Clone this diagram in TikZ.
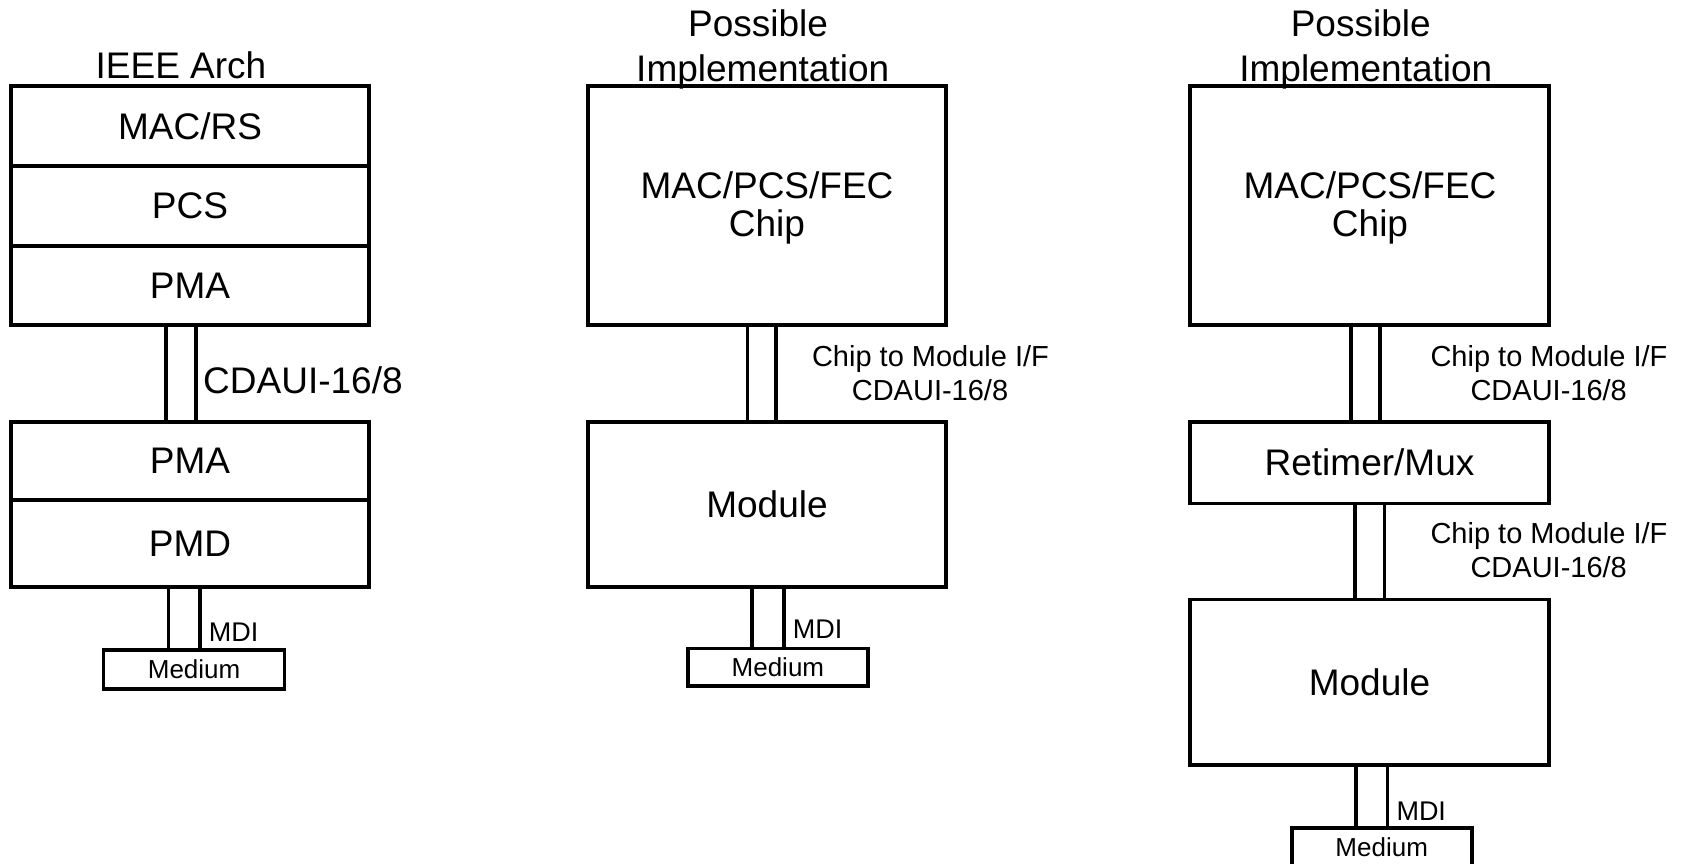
\documentclass[tikz,border=0pt]{standalone}
\usepackage{fontspec}
\setmainfont{Liberation Sans}
\newcommand\bigtxt{\fontsize{37}{38.4}\selectfont}
\newcommand\lbltxt{\fontsize{29}{33}\selectfont}
\newcommand\mditxt{\fontsize{27}{30}\selectfont}
\newcommand\medtxt{\fontsize{26}{29}\selectfont}
\begin{document}
\begin{tikzpicture}[x=1pt,y=-1pt,
  blk/.style={draw, line width=3.6pt, inner sep=0pt, outer sep=0pt, font=\bigtxt},
  bus/.style={draw, line width=3.6pt},
  med/.style={draw, line width=3.6pt, inner sep=0pt, outer sep=0pt,
              minimum width=180, minimum height=38, font=\medtxt},
  big/.style={inner sep=0pt, anchor=base, font=\bigtxt},
  lbl/.style={inner sep=0pt, anchor=base, font=\lbltxt},
  mdi/.style={inner sep=0pt, anchor=base west, font=\mditxt}]
\fill[white] (0,0) rectangle (1682,863);
\useasboundingbox (0,0) rectangle (1682,863);

% ---- IEEE architecture stack ----
\node[big] (titleA) at (181,78.3) {IEEE Arch};
\node[blk, minimum width=358, minimum height=79.7] (macrs) at (190,125.85) {MAC/RS};
\node[blk, minimum width=358, minimum height=80.3] (pcs)   at (190,205.85) {PCS};
\node[blk, minimum width=358, minimum height=79]   (pmaA)  at (190,285.5)  {PMA};
\node[blk, minimum width=358, minimum height=78.3] (pmaB)  at (190,460.85) {PMA};
\node[blk, minimum width=358, minimum height=86.7] (pmd)   at (190,543.35) {PMD};
\node[med, minimum width=181, minimum height=39] (medA) at (194.1,669.5) {Medium};
\draw[bus] (pmaA.south -| 166,0) rectangle (pmaB.north -| 196,0);
\draw[bus] (pmd.south -| 168.6,0) rectangle (medA.north -| 200,0);
\node[inner sep=0pt, anchor=base west, font=\bigtxt] (ifA) at (203,393.3) {CDAUI-16/8};
\node[mdi] (mdiA) at (208.7,641.7) {MDI};

% ---- chip + module implementation ----
\node[big] (possB) at (758,36.7) {Possible};
\node[big] (implB) at (762.7,81.7) {Implementation};
\node[blk, minimum width=358, minimum height=239] (chipB) at (767,205.5) {};
\node[big] (chipBa) at (767,198.3) {MAC/PCS/FEC};
\node[big] (chipBb) at (767,236.7) {Chip};
\node[blk, minimum width=358, minimum height=165] (modB) at (767,504.2) {Module};
\node[med, minimum height=37.7] (medB) at (777.9,667.15) {Medium};
\draw[bus] (chipB.south -| 747.5,0) rectangle (modB.north -| 776,0);
\draw[bus] (modB.south -| 752,0) rectangle (medB.north -| 784,0);
\node[lbl] (ifBa) at (930.5,366.7) {Chip to Module I/F};
\node[lbl] (ifBb) at (930,400) {CDAUI-16/8};
\node[mdi] (mdiB) at (792.6,638.3) {MDI};

% ---- chip + retimer + module implementation ----
\node[big] (possC) at (1360.7,36.7) {Possible};
\node[big] (implC) at (1365.8,81.7) {Implementation};
\node[blk, minimum width=359, minimum height=239] (chipC) at (1369.5,205.5) {};
\node[big] (chipCa) at (1370,198.3) {MAC/PCS/FEC};
\node[big] (chipCb) at (1370,236.7) {Chip};
\node[blk, minimum width=359, minimum height=81.6] (retC) at (1369.5,462.5) {Retimer/Mux};
\node[blk, minimum width=359, minimum height=165.7] (modC) at (1369.5,682.15) {Module};
\node[med] (medC) at (1381.7,847) {Medium};
\draw[bus] (chipC.south -| 1351,0) rectangle (retC.north -| 1380,0);
\draw[bus] (retC.south -| 1355,0) rectangle (modC.north -| 1384.5,0);
\draw[bus] (modC.south -| 1356,0) rectangle (medC.north -| 1387.3,0);
\node[lbl] (ifCa) at (1549,366.7) {Chip to Module I/F};
\node[lbl] (ifCb) at (1548.7,400) {CDAUI-16/8};
\node[lbl] (ifDa) at (1549,543.3) {Chip to Module I/F};
\node[lbl] (ifDb) at (1548.7,577.7) {CDAUI-16/8};
\node[mdi] (mdiC) at (1396.3,820) {MDI};
\end{tikzpicture}
\end{document}
